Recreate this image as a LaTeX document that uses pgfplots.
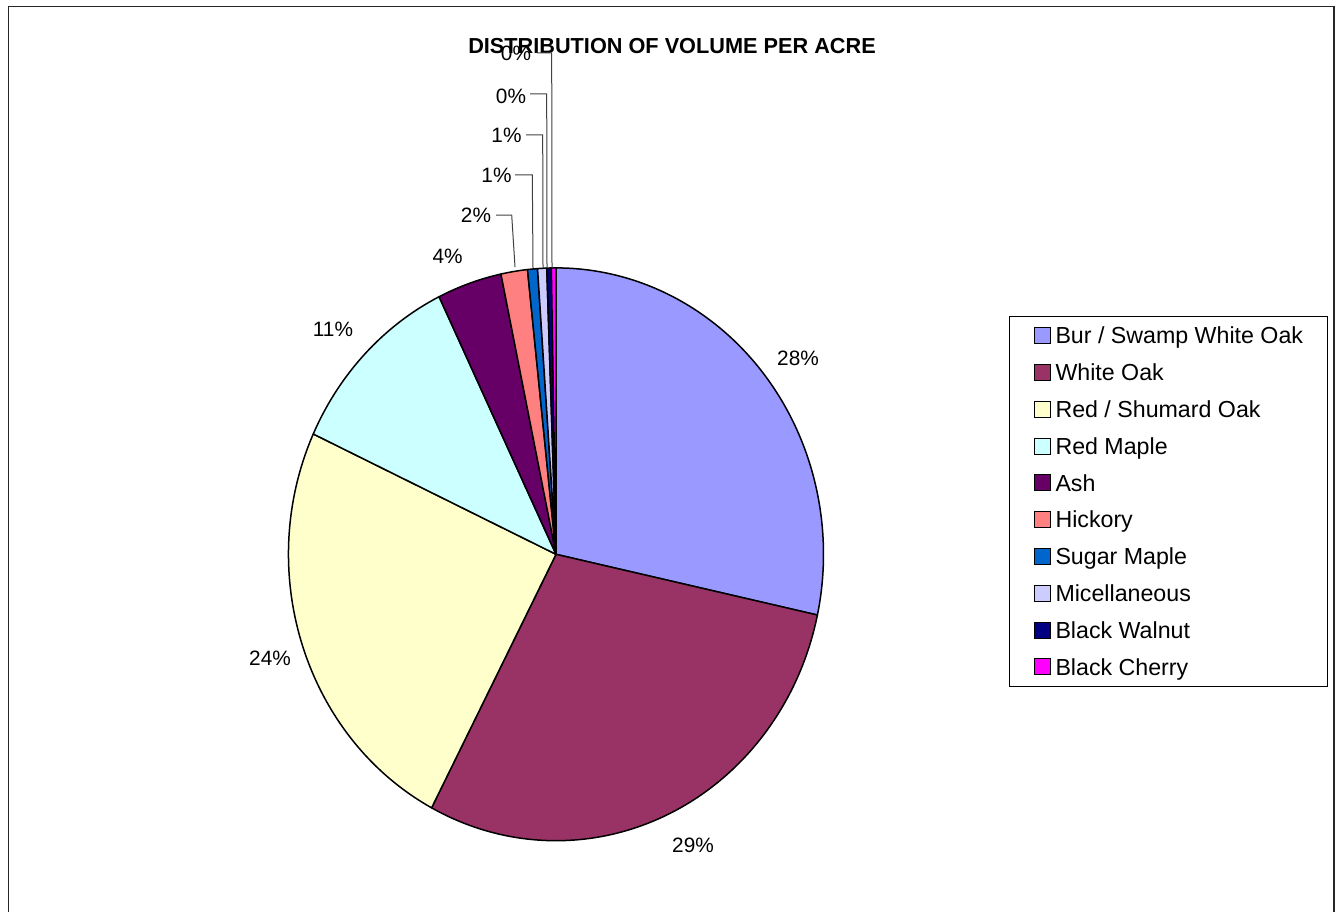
\documentclass[border=0pt]{standalone}
\usepackage{pgfplots}
\pgfplotsset{compat=1.18}
\usepackage{pgfplotstable}
\usepackage{fontspec}
\setmainfont{Liberation Sans}

\definecolor{c0}{HTML}{9999FF}
\definecolor{c1}{HTML}{993366}
\definecolor{c2}{HTML}{FFFFCC}
\definecolor{c3}{HTML}{CCFFFF}
\definecolor{c4}{HTML}{660066}
\definecolor{c5}{HTML}{FF8080}
\definecolor{c6}{HTML}{0066CC}
\definecolor{c7}{HTML}{CCCCFF}
\definecolor{c8}{HTML}{000080}
\definecolor{c9}{HTML}{FF00FF}

% share of volume per acre, percent (clockwise from 12 o'clock)
\pgfplotstableread{
id value
0 28.4
1 29.3
2 24.2
3 10.9
4 3.9
5 1.6
6 0.6
7 0.55
8 0.27
9 0.28
}\piedata

\newcommand\labfont{\fontsize{10.4}{12.5}\selectfont}

\begin{document}%
\def\cum{0}%
\pgfplotsforeachungrouped \i in {0,...,9}{%
  \pgfplotstablegetelem{\i}{value}\of\piedata
  \pgfmathsetmacro\sa{90-3.6*\cum}%
  \pgfmathsetmacro\newcum{\cum+\pgfplotsretval}%
  \pgfmathsetmacro\ea{90-3.6*\newcum}%
  \expandafter\xdef\csname sa\i\endcsname{\sa}%
  \expandafter\xdef\csname ea\i\endcsname{\ea}%
  \xdef\cum{\newcum}%
}%
\begin{tikzpicture}
\begin{axis}[
  x=0.5pt, y=0.5pt,
  xmin=0, xmax=1338, ymin=0, ymax=912,
  hide axis, clip=false,
  legend cell align=left,
  legend image code/.code={\draw[#1, line width=0.5pt] (0pt,-4pt) rectangle (8pt,4pt);},
  legend style={at={(axis cs:1009,225.3)}, anchor=south west,
    draw=black, line width=0.5pt, fill=white,
    inner xsep=12pt, inner ysep=0.5pt, row sep=0pt, column sep=2.5pt,
    font=\fontsize{11.6}{13.9}\selectfont,
    nodes={inner sep=0pt, minimum height=18.4pt, text height=8.3pt, text depth=0pt}},
]
\coordinate (bbSW) at (axis cs:0,0);
\coordinate (bbNE) at (axis cs:1338,912);

% outer frame
\draw[line width=0.75pt, black!85] (axis cs:8.7,0) -- (axis cs:8.7,905.5) -- (axis cs:1334,905.5) -- (axis cs:1334,0);

% pie slices
\pgfplotsinvokeforeach{0,...,9}{
  \filldraw[fill=c#1, draw=black, line width=0.75pt, line join=round]
    (axis cs:556,357.7) --
    (axis cs:{556+267.5*cos(\csname sa#1\endcsname)},{357.7+286.4*sin(\csname sa#1\endcsname)})
    arc[start angle=\csname sa#1\endcsname, end angle=\csname ea#1\endcsname, x radius=133.75pt, y radius=143.2pt]
    -- cycle;
}

\addlegendimage{fill=c0, draw=black}\addlegendentry{Bur / Swamp White Oak}
\addlegendimage{fill=c1, draw=black}\addlegendentry{White Oak}
\addlegendimage{fill=c2, draw=black}\addlegendentry{Red / Shumard Oak}
\addlegendimage{fill=c3, draw=black}\addlegendentry{Red Maple}
\addlegendimage{fill=c4, draw=black}\addlegendentry{Ash}
\addlegendimage{fill=c5, draw=black}\addlegendentry{Hickory}
\addlegendimage{fill=c6, draw=black}\addlegendentry{Sugar Maple}
\addlegendimage{fill=c7, draw=black}\addlegendentry{Micellaneous}
\addlegendimage{fill=c8, draw=black}\addlegendentry{Black Walnut}
\addlegendimage{fill=c9, draw=black}\addlegendentry{Black Cherry}

% title
\node[font=\bfseries\fontsize{10.85}{13}\selectfont] at (axis cs:672,866) {DISTRIBUTION OF VOLUME PER ACRE};

% leader lines
\draw[line width=0.5pt, black!75] (axis cs:496,697) -- (axis cs:511.7,697) -- (axis cs:515,645);
\draw[line width=0.5pt, black!75] (axis cs:515,737) -- (axis cs:532.3,737) -- (axis cs:533,644);
\draw[line width=0.5pt, black!75] (axis cs:526,777) -- (axis cs:542.7,777) -- (axis cs:543,644);
\draw[line width=0.5pt, black!75] (axis cs:530,818) -- (axis cs:546.7,818) -- (axis cs:547,644);
\draw[line width=0.5pt, black!75] (axis cs:537,859) -- (axis cs:551.7,859) -- (axis cs:552,644);

% data labels
\node[font=\labfont] at (axis cs:798,554) {28\%};
\node[font=\labfont] at (axis cs:693,67) {29\%};
\node[font=\labfont] at (axis cs:270,254) {24\%};
\node[font=\labfont] at (axis cs:333,583) {11\%};
\node[font=\labfont] at (axis cs:447.7,655.3) {4\%};
\node[font=\labfont] at (axis cs:476,697) {2\%};
\node[font=\labfont] at (axis cs:496.5,737) {1\%};
\node[font=\labfont] at (axis cs:506.5,777) {1\%};
\node[font=\labfont] at (axis cs:511,816) {0\%};
\node[font=\labfont] at (axis cs:516,859) {0\%};
\end{axis}
\pgfresetboundingbox
\useasboundingbox (bbSW) rectangle (bbNE);
\end{tikzpicture}%
\end{document}
